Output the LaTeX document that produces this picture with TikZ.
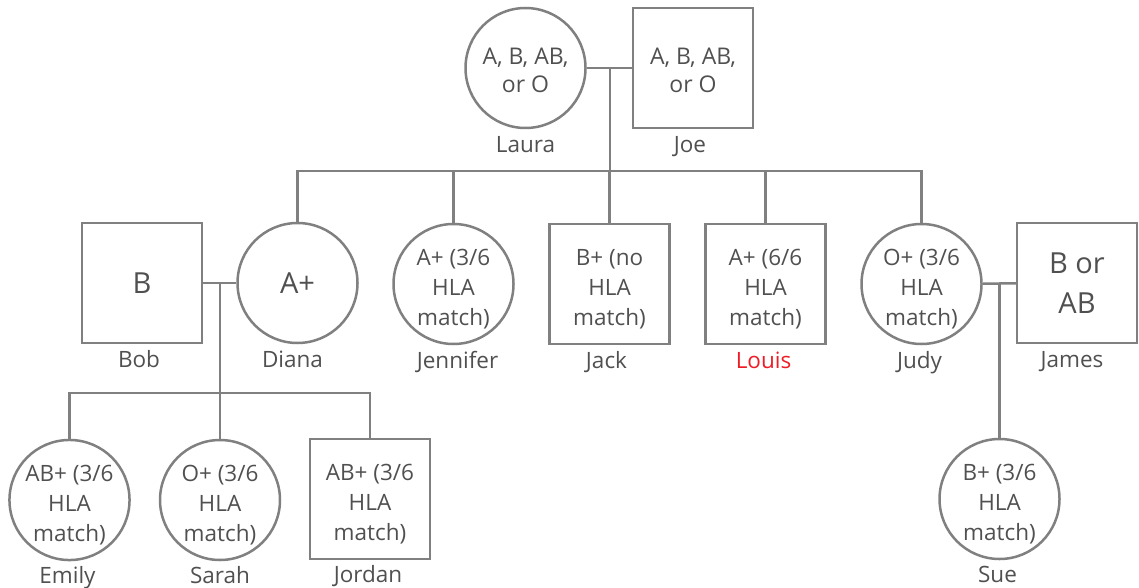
\documentclass[tikz,border=0pt]{standalone}
\usepackage{fontspec}
\setmainfont{Open Sans}
\usetikzlibrary{positioning}
\definecolor{pedLine}{HTML}{808080}
\definecolor{pedText}{HTML}{505050}
\definecolor{pedRed}{HTML}{EE1C25}
\tikzset{
  person/.style={draw=pedLine, line width=2.5pt, minimum size=120pt, inner sep=0pt, align=center, text=pedText,
    font=\fontsize{22.5}{30}\selectfont, text height=82pt, text depth=0pt},
  female/.style={person, circle},
  male/.style={person, rectangle},
  bigText/.style={font=\fontsize{29}{40}\selectfont, text height=, text depth=},
  topText/.style={font=\fontsize{23}{28}\selectfont, text height=49.5pt, text depth=},
  nameText/.style={text=pedText, inner sep=0pt, text height=16pt, text depth=5pt, font=\fontsize{22.5}{26}\selectfont},
  pedEdge/.style={draw=pedLine, line width=2.5pt}
}

\begin{document}
\begin{tikzpicture}[x=1pt, y=-1pt]
  \useasboundingbox (0,0) rectangle (1139,588);

  % grandparents
  \node[female, topText] (laura) at (525.5,68) {A, B, AB,\\or O};
  \node[male, topText] (joe) at (693,68) {A, B, AB,\\or O};
  \node[nameText, below=7pt of laura] (lauraName) {Laura};
  \node[nameText, below=7pt of joe, xshift=-3pt] (joeName) {Joe};

  % children and spouses
  \node[male, bigText] (bob) at (142,283) {B};
  \node[female, bigText] (diana) at (297.5,283) {A+};
  \node[female] (jennifer) at (453.5,284) {A+ (3/6\\HLA\\match)};
  \node[male] (jack) at (609.5,284) {B+ (no\\HLA\\match)};
  \node[male] (louis) at (765.5,284) {A+ (6/6\\HLA\\match)};
  \node[female] (judy) at (921.5,284) {O+ (3/6\\HLA\\match)};
  \node[male, bigText] (james) at (1077,283) {B or\\AB};
  \node[nameText, below=7pt of bob, xshift=-3pt] (bobName) {Bob};
  \node[nameText, below=7pt of diana, xshift=-5pt] (dianaName) {Diana};
  \node[nameText, below=7pt of jennifer, xshift=4pt] (jenniferName) {Jennifer};
  \node[nameText, below=7pt of jack, xshift=-3pt] (jackName) {Jack};
  \node[nameText, below=7pt of louis, xshift=-2pt, text=pedRed] (louisName) {Louis};
  \node[nameText, below=7pt of judy, xshift=-2pt] (judyName) {Judy};
  \node[nameText, below=7pt of james, xshift=-5pt] (jamesName) {James};

  % grandchildren
  \node[female] (emily) at (69.5,500) {AB+ (3/6\\HLA\\match)};
  \node[female] (sarah) at (220,500) {O+ (3/6\\HLA\\match)};
  \node[male] (jordan) at (370,499) {AB+ (3/6\\HLA\\match)};
  \node[female] (sue) at (999.5,499) {B+ (3/6\\HLA\\match)};
  \node[nameText, below=6pt of emily, xshift=-2pt] (emilyName) {Emily};
  \node[nameText, below=6pt of sarah] (sarahName) {Sarah};
  \node[nameText, below=6pt of jordan, xshift=-2pt] (jordanName) {Jordan};
  \node[nameText, below=6pt of sue, xshift=-2pt] (sueName) {Sue};

  % couple and sibling lines
  \coordinate (lauraJoe) at (610,68);
  \coordinate (sibBar) at (610,171);
  \coordinate (bobDiana) at (220,283);
  \coordinate (kidBar) at (220,393);
  \coordinate (judyJames) at (999.5,283);

  \draw[pedEdge] (laura) -- (joe);
  \draw[pedEdge] (lauraJoe) -- (sibBar);
  \draw[pedEdge] (diana.north) |- (sibBar) -| (judy.north);
  \foreach \kid in {jennifer,jack,louis}
    \draw[pedEdge] (\kid.north) -- (\kid.north |- sibBar);

  \draw[pedEdge] (bob) -- (diana);
  \draw[pedEdge] (bobDiana) -- (sarah.north);
  \draw[pedEdge] (emily.north) |- (kidBar) -| (jordan.north);

  \draw[pedEdge] (judy) -- (james);
  \draw[pedEdge] (judyJames) -- (sue.north);
\end{tikzpicture}
\end{document}
